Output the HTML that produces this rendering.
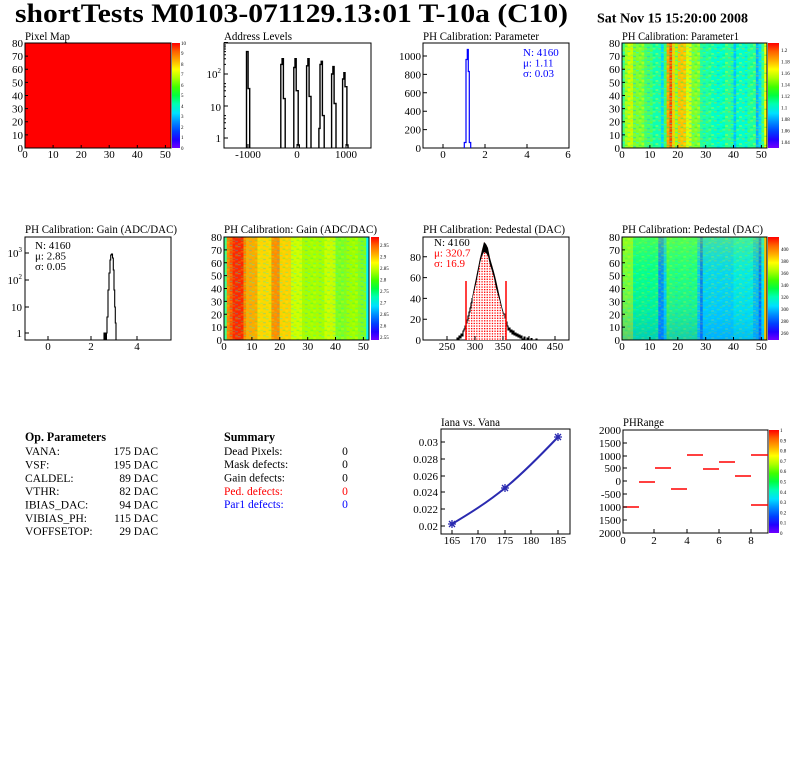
<!DOCTYPE html>
<html><head><meta charset="utf-8"><style>
html,body{margin:0;padding:0;background:#fff;}
svg{display:block;}
text{font-family:"Liberation Serif",serif;fill:#000;}
.t{font-size:11px;}
.p{font-size:5px;}
.h{font-size:11.5px;}
</style></head><body>
<svg width="796" height="772" viewBox="0 0 796 772" xmlns="http://www.w3.org/2000/svg">
<defs>
<linearGradient id="pal" x1="0" y1="1" x2="0" y2="0">
<stop offset="0" stop-color="#7000ff"/><stop offset="0.08" stop-color="#2000ff"/><stop offset="0.16" stop-color="#0040ff"/>
<stop offset="0.25" stop-color="#0090ff"/><stop offset="0.33" stop-color="#00e0ff"/><stop offset="0.42" stop-color="#00ffb0"/>
<stop offset="0.5" stop-color="#00ff40"/><stop offset="0.58" stop-color="#40ff00"/><stop offset="0.67" stop-color="#b0ff00"/>
<stop offset="0.75" stop-color="#ffff00"/><stop offset="0.83" stop-color="#ffb000"/><stop offset="0.92" stop-color="#ff6000"/>
<stop offset="1" stop-color="#ff0000"/>
</linearGradient>
<pattern id="tex" x="0" y="0" width="13.94" height="9.01" patternUnits="userSpaceOnUse">
<rect x="0" y="0" width="2.79" height="1.29" fill="#00ffff" opacity="0.5"/>
<rect x="5.58" y="1.29" width="2.79" height="1.29" fill="#ffff00" opacity="0.5"/>
<rect x="2.79" y="2.57" width="2.79" height="1.29" fill="#00ff60" opacity="0.5"/>
<rect x="11.15" y="3.86" width="2.79" height="1.29" fill="#00c0ff" opacity="0.5"/>
<rect x="8.36" y="5.15" width="2.79" height="1.29" fill="#ffc000" opacity="0.45"/>
<rect x="0" y="6.44" width="2.79" height="1.29" fill="#80ff00" opacity="0.5"/>
<rect x="5.58" y="7.72" width="2.79" height="1.29" fill="#00ffd0" opacity="0.5"/>
<rect x="11.15" y="0" width="2.79" height="1.29" fill="#a0ff00" opacity="0.45"/>
<rect x="8.36" y="2.57" width="2.79" height="1.29" fill="#40ff80" opacity="0.45"/>
<rect x="2.79" y="5.15" width="2.79" height="1.29" fill="#e0ff00" opacity="0.45"/>
<rect x="11.15" y="7.72" width="2.79" height="1.29" fill="#00e0ff" opacity="0.45"/>
<rect x="5.58" y="3.86" width="2.79" height="1.29" fill="#60ff40" opacity="0.45"/>
</pattern>
<pattern id="dots" x="0" y="0" width="2.6" height="2.6" patternUnits="userSpaceOnUse">
<rect x="0" y="0" width="2.6" height="2.6" fill="#fff"/>
<rect x="0.4" y="0.4" width="1.3" height="1.3" fill="#ff0000"/>
</pattern>
<linearGradient id="pedv" x1="0" y1="0" x2="0" y2="1">
<stop offset="0" stop-color="#c0ff00" stop-opacity="0.35"/>
<stop offset="0.35" stop-color="#40ff60" stop-opacity="0.1"/>
<stop offset="0.7" stop-color="#00a0ff" stop-opacity="0.15"/>
<stop offset="1" stop-color="#0060ff" stop-opacity="0.3"/>
</linearGradient>
</defs>

<!-- Title -->
<text x="15" y="22" font-size="26" font-weight="bold" textLength="553" lengthAdjust="spacingAndGlyphs">shortTests M0103-071129.13:01 T-10a (C10)</text>
<text x="597" y="22.5" font-size="13.5" font-weight="bold" textLength="151" lengthAdjust="spacingAndGlyphs">Sat Nov 15 15:20:00 2008</text>

<!-- ========== Pixel Map ========== -->
<text class="h" x="25" y="40" textLength="45" lengthAdjust="spacingAndGlyphs">Pixel Map</text>
<rect x="25" y="43" width="146" height="105" fill="#ff0000"/>
<rect x="172" y="43" width="8" height="105" fill="url(#pal)"/>
<rect x="25" y="43" width="146" height="105" fill="none" stroke="#000" stroke-width="1"/>
<path d="M53.1,148v-3M81.2,148v-3M109.2,148v-3M137.3,148v-3M165.4,148v-3M25,134.9h3M25,121.75h3M25,108.6h3M25,95.5h3M25,82.4h3M25,69.25h3M25,56.1h3" stroke="#000" fill="none"/>
<g class="t" text-anchor="end">
<text x="23" y="47">80</text><text x="23" y="60">70</text><text x="23" y="73">60</text><text x="23" y="86.4">50</text><text x="23" y="99.5">40</text><text x="23" y="112.6">30</text><text x="23" y="125.7">20</text><text x="23" y="138.9">10</text><text x="23" y="152">0</text>
</g>
<g class="t" text-anchor="middle">
<text x="25" y="158">0</text><text x="53.1" y="158">10</text><text x="81.2" y="158">20</text><text x="109.2" y="158">30</text><text x="137.3" y="158">40</text><text x="165.4" y="158">50</text>
</g>
<g class="p">
<text x="181" y="45">10</text><text x="181" y="55">9</text><text x="181" y="66">8</text><text x="181" y="76">7</text><text x="181" y="87">6</text><text x="181" y="97">5</text><text x="181" y="108">4</text><text x="181" y="118">3</text><text x="181" y="129">2</text><text x="181" y="139">1</text><text x="181" y="150">0</text>
</g>

<!-- ========== Address Levels ========== -->
<text class="h" x="224" y="40" textLength="68" lengthAdjust="spacingAndGlyphs">Address Levels</text>
<rect x="224" y="43" width="147" height="105" fill="none" stroke="#000"/>
<g fill="none" stroke="#000" stroke-width="1.4">
<path d="M246.5,148V51.6H248.1V88.6H249.7V148"/>
<path d="M280.8,148V64.4H282.1V58.7H283.4V98.6H285.2V148"/>
<path d="M293.8,148V67.5H295V58.7H296.2V90.7H298.2V145H299.3V148"/>
<path d="M306.6,148V65.8H307.9V58.7H309.1V96.4H311V148"/>
<path d="M318.9,148V128.4H320V64.4H321.2V61.3H322.4V115.6H324.2V148"/>
<path d="M331.6,148V74H332.9V66.6H334.1V103.5H336V148"/>
<path d="M342.6,148V79H343.9V72.7H345V86.7H346.9V145H348V148"/>
</g>
<path d="M248,148v-4M297,148v-4M346,148v-4M224,138h4M224,106h4M224,74h4M224,42.5h4M224,128.4h2M224,122.7h2M224,118.7h2M224,115.6h2M224,96.4h2M224,90.7h2M224,86.7h2M224,83.6h2M224,64.4h2M224,58.7h2M224,54.7h2M224,51.6h2M224,49h2M224,46.9h2M224,45h2" stroke="#000" fill="none"/>
<g class="t" text-anchor="end">
<text x="221" y="142">1</text><text x="221" y="111">10</text><text x="221" y="78">10<tspan font-size="7" dy="-5">2</tspan></text>
</g>
<g class="t" text-anchor="middle">
<text x="248" y="158">-1000</text><text x="297" y="158">0</text><text x="346" y="158">1000</text>
</g>

<!-- ========== PH Calibration: Parameter ========== -->
<text class="h" x="423" y="40" textLength="116" lengthAdjust="spacingAndGlyphs">PH Calibration: Parameter</text>
<rect x="423" y="43" width="146" height="105" fill="none" stroke="#000"/>
<path d="M464.3,148V142.5H466V59.5H467.3V49.5H468.3V71.5H469.3V142.5H470.7V148" fill="none" stroke="#0000ff" stroke-width="1.2"/>
<path d="M443,148v-4M485,148v-4M527,148v-4M423,56h4M423,74.4h4M423,92.8h4M423,111.2h4M423,129.6h4" stroke="#000" fill="none"/>
<g class="t" text-anchor="end">
<text x="421" y="60">1000</text><text x="421" y="78.4">800</text><text x="421" y="96.8">600</text><text x="421" y="115.2">400</text><text x="421" y="133.6">200</text><text x="421" y="152">0</text>
</g>
<g class="t" text-anchor="middle">
<text x="443" y="158">0</text><text x="485" y="158">2</text><text x="527" y="158">4</text><text x="568" y="158">6</text>
</g>
<g class="t">
<text x="523" y="56" style="fill:#0000ff">N: 4160</text><text x="523" y="66.5" style="fill:#0000ff">μ: 1.11</text><text x="523" y="77" style="fill:#0000ff">σ: 0.03</text>
</g>

<!-- ========== PH Calibration: Parameter1 ========== -->
<text class="h" x="622" y="40" textLength="117" lengthAdjust="spacingAndGlyphs">PH Calibration: Parameter1</text>
<g transform="translate(622,43)">
<rect x="0" y="0" width="145" height="105" fill="#40ff80"/>
<rect x="2.79" y="0" width="2.79" height="105" fill="#a0ff20"/>
<rect x="5.58" y="0" width="5.58" height="105" fill="#c8ff00"/>
<rect x="11.15" y="0" width="11.15" height="105" fill="#80ff30"/>
<rect x="22.31" y="0" width="8.37" height="105" fill="#40ff70"/>
<rect x="30.67" y="0" width="8.37" height="105" fill="#10ffb0"/>
<rect x="39.04" y="0" width="2.79" height="105" fill="#00d8ff"/>
<rect x="41.83" y="0" width="2.79" height="105" fill="#40ff60"/>
<rect x="44.62" y="0" width="2.79" height="105" fill="#ffa000"/>
<rect x="47.40" y="0" width="2.79" height="105" fill="#ff4000"/>
<rect x="50.19" y="0" width="2.79" height="105" fill="#ffd000"/>
<rect x="52.98" y="0" width="2.79" height="105" fill="#b0ff00"/>
<rect x="55.77" y="0" width="8.37" height="105" fill="#ffc000"/>
<rect x="64.13" y="0" width="5.58" height="105" fill="#e0ff00"/>
<rect x="69.71" y="0" width="8.37" height="105" fill="#80ff30"/>
<rect x="78.08" y="0" width="11.15" height="105" fill="#20ffa0"/>
<rect x="89.23" y="0" width="13.94" height="105" fill="#00ffc8"/>
<rect x="103.17" y="0" width="8.37" height="105" fill="#20ffa0"/>
<rect x="111.54" y="0" width="2.79" height="105" fill="#00c0ff"/>
<rect x="114.33" y="0" width="11.15" height="105" fill="#00ffd0"/>
<rect x="125.48" y="0" width="8.37" height="105" fill="#20ffa0"/>
<rect x="133.85" y="0" width="2.79" height="105" fill="#00b0ff"/>
<rect x="136.63" y="0" width="2.79" height="105" fill="#00e0ff"/>
<rect x="139.42" y="0" width="2.79" height="105" fill="#40ff80"/>
<rect x="142.21" y="0" width="2.79" height="105" fill="#ffff00"/>
<rect x="0" y="0" width="145" height="105" fill="url(#tex)"/>
</g>
<rect x="768" y="43" width="11" height="105" fill="url(#pal)"/>
<rect x="622" y="43" width="145" height="105" fill="none" stroke="#000"/>
<path d="M649.9,148v-3M677.8,148v-3M705.7,148v-3M733.5,148v-3M761.4,148v-3M622,134.9h3M622,121.75h3M622,108.6h3M622,95.5h3M622,82.4h3M622,69.25h3M622,56.1h3" stroke="#000" fill="none"/>
<g class="t" text-anchor="end">
<text x="620" y="47">80</text><text x="620" y="60">70</text><text x="620" y="73">60</text><text x="620" y="86.4">50</text><text x="620" y="99.5">40</text><text x="620" y="112.6">30</text><text x="620" y="125.7">20</text><text x="620" y="138.9">10</text><text x="620" y="152">0</text>
</g>
<g class="t" text-anchor="middle">
<text x="622" y="158">0</text><text x="649.9" y="158">10</text><text x="677.8" y="158">20</text><text x="705.7" y="158">30</text><text x="733.5" y="158">40</text><text x="761.4" y="158">50</text>
</g>
<g class="p">
<text x="781" y="52">1.2</text><text x="781" y="63.5">1.18</text><text x="781" y="75">1.16</text><text x="781" y="86.5">1.14</text><text x="781" y="98">1.12</text><text x="781" y="109.5">1.1</text><text x="781" y="121">1.08</text><text x="781" y="132.5">1.06</text><text x="781" y="144">1.04</text>
</g>

<!-- ========== Gain histogram ========== -->
<text class="h" x="25" y="233" textLength="152" lengthAdjust="spacingAndGlyphs">PH Calibration: Gain (ADC/DAC)</text>
<rect x="25" y="237" width="146" height="103" fill="none" stroke="#000"/>
<rect x="104" y="333" width="3" height="7" fill="#000"/>
<path d="M104,340V333H107V317H108V290H109V273H110V260H110.7V255H111.5V254H112.5V258H113.3V270H114V290H114.7V307H115.3V323H116V340" fill="none" stroke="#000" stroke-width="1.1"/>
<path d="M48,340v-4M91,340v-4M137,340v-4M25,333h4M25,307h4M25,280h4M25,253h4" stroke="#000" fill="none"/>
<g class="t" text-anchor="end">
<text x="22" y="337">1</text><text x="22" y="311">10</text><text x="22" y="284">10<tspan font-size="7" dy="-5">2</tspan></text><text x="22" y="257">10<tspan font-size="7" dy="-5">3</tspan></text>
</g>
<g class="t" text-anchor="middle">
<text x="48" y="350">0</text><text x="91" y="350">2</text><text x="137" y="350">4</text>
</g>
<g class="t">
<text x="35" y="249">N: 4160</text><text x="35" y="259.5">μ: 2.85</text><text x="35" y="270">σ: 0.05</text>
</g>

<!-- ========== Gain heatmap ========== -->
<text class="h" x="224" y="233" textLength="153" lengthAdjust="spacingAndGlyphs">PH Calibration: Gain (ADC/DAC)</text>
<g transform="translate(224,237)">
<rect x="0" y="0" width="145" height="103" fill="#a8ff00"/>
<rect x="0" y="0" width="2.79" height="103" fill="#40ff90"/>
<rect x="2.79" y="0" width="2.79" height="103" fill="#ff8000"/>
<rect x="5.58" y="0" width="2.79" height="103" fill="#ff5000"/>
<rect x="8.37" y="0" width="11.15" height="103" fill="#ff2800"/>
<rect x="19.52" y="0" width="2.79" height="103" fill="#ff8000"/>
<rect x="22.31" y="0" width="11.15" height="103" fill="#ffa800"/>
<rect x="33.46" y="0" width="13.94" height="103" fill="#ffd800"/>
<rect x="47.40" y="0" width="8.37" height="103" fill="#ff8c00"/>
<rect x="55.77" y="0" width="11.15" height="103" fill="#ffd000"/>
<rect x="66.92" y="0" width="11.15" height="103" fill="#d0ff00"/>
<rect x="78.08" y="0" width="22.31" height="103" fill="#a8ff00"/>
<rect x="100.38" y="0" width="11.15" height="103" fill="#c8ff00"/>
<rect x="111.54" y="0" width="11.15" height="103" fill="#80ff20"/>
<rect x="122.69" y="0" width="11.15" height="103" fill="#a0ff00"/>
<rect x="133.85" y="0" width="8.37" height="103" fill="#80ff20"/>
<rect x="142.21" y="0" width="2.79" height="103" fill="#00f0ff"/>
<rect x="0" y="0" width="142" height="103" fill="url(#tex)" opacity="0.6"/>
</g>
<rect x="371" y="237" width="8" height="103" fill="url(#pal)"/>
<rect x="224" y="237" width="145" height="103" fill="none" stroke="#000"/>
<path d="M251.9,340v-3M279.8,340v-3M307.7,340v-3M335.5,340v-3M363.4,340v-3M224,327.1h3M224,314.25h3M224,301.4h3M224,288.5h3M224,275.6h3M224,262.75h3M224,249.9h3" stroke="#000" fill="none"/>
<g class="t" text-anchor="end">
<text x="222" y="241">80</text><text x="222" y="253.9">70</text><text x="222" y="266.75">60</text><text x="222" y="279.6">50</text><text x="222" y="292.5">40</text><text x="222" y="305.4">30</text><text x="222" y="318.25">20</text><text x="222" y="331.1">10</text><text x="222" y="344">0</text>
</g>
<g class="t" text-anchor="middle">
<text x="224" y="350">0</text><text x="251.9" y="350">10</text><text x="279.8" y="350">20</text><text x="307.7" y="350">30</text><text x="335.5" y="350">40</text><text x="363.4" y="350">50</text>
</g>
<g class="p">
<text x="380" y="247">2.95</text><text x="380" y="258.5">2.9</text><text x="380" y="270">2.85</text><text x="380" y="281.5">2.8</text><text x="380" y="293">2.75</text><text x="380" y="304.5">2.7</text><text x="380" y="316">2.65</text><text x="380" y="327.5">2.6</text><text x="380" y="339">2.55</text>
</g>

<!-- ========== Pedestal histogram ========== -->
<text class="h" x="423" y="233" textLength="142" lengthAdjust="spacingAndGlyphs">PH Calibration: Pedestal (DAC)</text>
<rect x="423" y="237" width="146" height="103" fill="none" stroke="#000"/>
<polygon points="466,340 466,323 468,316 470,308 472,298 474,288 476,278 478,268 480,258 482,250 484,242 486,244 488,248 490,258 492,265 494,272 496,280 498,289 500,298 502,307 504,314 506,322 506,340" fill="url(#dots)"/>
<polygon points="470,308 472,298 474,288 476,278 478,268 480,258 482,250 484,242 486,244 488,248 490,258 492,265 494,272 496,280 498,289 500,298 502,307 504,314 504,316 502,310 500,302 498,295 496,288 494,278 492,271 490,265 488,256 486,253 484,252 482,256 480,263 478,274 476,284 474,292 472,300 470,309" fill="#000"/>
<path d="M455,340H457V338H458V339.5H459V336H460V338H461V334H462V336H463V331H464V329H465V326H466V323H467V320H468V316H469V312H470V308H471V303H472V298" fill="none" stroke="#000" stroke-width="1.1"/>
<path d="M504,314H505V318H506V322H507V326H508V330H509V328H510V332H511V330H512V334H513V331H514V335H515V333H516V336H517V334H518V337H519V335H520V338H521V336H522V339H524V337H525V340H527V338H528V340H531V338.5H532V340H536V339H537V340" fill="none" stroke="#000" stroke-width="1.1"/>
<path d="M466,340V281M506,340V281" stroke="#ff0000" stroke-width="1.5"/>
<path d="M447,340v-4M475,340v-4M503,340v-4M529,340v-4M555,340v-4M423,319.2h4M423,298.4h4M423,277.6h4M423,256.8h4" stroke="#000" fill="none"/>
<g class="t" text-anchor="end">
<text x="421" y="261">80</text><text x="421" y="281.6">60</text><text x="421" y="302.4">40</text><text x="421" y="323.2">20</text><text x="421" y="344">0</text>
</g>
<g class="t" text-anchor="middle">
<text x="447" y="350">250</text><text x="475" y="350">300</text><text x="503" y="350">350</text><text x="529" y="350">400</text><text x="555" y="350">450</text>
</g>
<g class="t">
<text x="434" y="246">N: 4160</text><text x="434" y="256.5" style="fill:#ff0000">μ: 320.7</text><text x="434" y="267" style="fill:#ff0000">σ: 16.9</text>
</g>

<!-- ========== Pedestal heatmap ========== -->
<text class="h" x="622" y="233" textLength="141" lengthAdjust="spacingAndGlyphs">PH Calibration: Pedestal (DAC)</text>
<g transform="translate(622,237)">
<rect x="0" y="0" width="145" height="103" fill="#20ff80"/>
<rect x="0" y="0" width="11.15" height="103" fill="#80ff30"/>
<rect x="11.15" y="0" width="25.1" height="103" fill="#00ff90"/>
<rect x="36.25" y="0" width="5.58" height="103" fill="#0080ff"/>
<rect x="41.83" y="0" width="2.79" height="103" fill="#00c8ff"/>
<rect x="44.62" y="0" width="2.79" height="103" fill="#40ff50"/>
<rect x="47.40" y="0" width="27.88" height="103" fill="#20ff80"/>
<rect x="75.29" y="0" width="2.79" height="103" fill="#00c0ff"/>
<rect x="78.08" y="0" width="2.79" height="103" fill="#0070ff"/>
<rect x="80.87" y="0" width="30.67" height="103" fill="#00d0ff"/>
<rect x="111.54" y="0" width="19.52" height="103" fill="#00e8f0"/>
<rect x="131.06" y="0" width="5.58" height="103" fill="#00b8ff"/>
<rect x="136.63" y="0" width="2.79" height="103" fill="#0060ff"/>
<rect x="139.42" y="0" width="2.79" height="103" fill="#00e0ff"/>
<rect x="142.21" y="0" width="2.79" height="103" fill="#ffc000"/>
<rect x="0" y="0" width="142" height="103" fill="url(#tex)" opacity="0.7"/>
<rect x="0" y="0" width="142" height="103" fill="url(#pedv)"/>
</g>
<rect x="768" y="237" width="11" height="103" fill="url(#pal)"/>
<rect x="622" y="237" width="145" height="103" fill="none" stroke="#000"/>
<path d="M649.9,340v-3M677.8,340v-3M705.7,340v-3M733.5,340v-3M761.4,340v-3M622,327.1h3M622,314.25h3M622,301.4h3M622,288.5h3M622,275.6h3M622,262.75h3M622,249.9h3" stroke="#000" fill="none"/>
<g class="t" text-anchor="end">
<text x="620" y="241">80</text><text x="620" y="253.9">70</text><text x="620" y="266.75">60</text><text x="620" y="279.6">50</text><text x="620" y="292.5">40</text><text x="620" y="305.4">30</text><text x="620" y="318.25">20</text><text x="620" y="331.1">10</text><text x="620" y="344">0</text>
</g>
<g class="t" text-anchor="middle">
<text x="622" y="350">0</text><text x="649.9" y="350">10</text><text x="677.8" y="350">20</text><text x="705.7" y="350">30</text><text x="733.5" y="350">40</text><text x="761.4" y="350">50</text>
</g>
<g class="p">
<text x="781" y="251">400</text><text x="781" y="263">380</text><text x="781" y="275">360</text><text x="781" y="287">340</text><text x="781" y="299">320</text><text x="781" y="311">300</text><text x="781" y="323">280</text><text x="781" y="335">260</text>
</g>

<!-- ========== Op. Parameters ========== -->
<text x="25" y="441" font-size="13" font-weight="bold" textLength="81" lengthAdjust="spacingAndGlyphs">Op. Parameters</text>
<g font-size="11.5">
<text x="25" y="455">VANA:</text><text x="158" y="455" text-anchor="end">175 DAC</text>
<text x="25" y="468.5">VSF:</text><text x="158" y="468.5" text-anchor="end">195 DAC</text>
<text x="25" y="482">CALDEL:</text><text x="158" y="482" text-anchor="end">89 DAC</text>
<text x="25" y="495">VTHR:</text><text x="158" y="495" text-anchor="end">82 DAC</text>
<text x="25" y="508.5">IBIAS_DAC:</text><text x="158" y="508.5" text-anchor="end">94 DAC</text>
<text x="25" y="522">VIBIAS_PH:</text><text x="158" y="522" text-anchor="end">115 DAC</text>
<text x="25" y="535">VOFFSETOP:</text><text x="158" y="535" text-anchor="end">29 DAC</text>
</g>

<!-- ========== Summary ========== -->
<text x="224" y="441" font-size="13" font-weight="bold" textLength="51" lengthAdjust="spacingAndGlyphs">Summary</text>
<g font-size="11.5">
<text x="224" y="455">Dead Pixels:</text><text x="345" y="455" text-anchor="middle">0</text>
<text x="224" y="468">Mask defects:</text><text x="345" y="468" text-anchor="middle">0</text>
<text x="224" y="481.5">Gain defects:</text><text x="345" y="481.5" text-anchor="middle">0</text>
<text x="224" y="495" style="fill:#ff0000">Ped. defects:</text><text x="345" y="495" text-anchor="middle" style="fill:#ff0000">0</text>
<text x="224" y="508" style="fill:#0000ff">Par1 defects:</text><text x="345" y="508" text-anchor="middle" style="fill:#0000ff">0</text>
</g>

<!-- ========== Iana vs. Vana ========== -->
<text class="h" x="441" y="426" textLength="59" lengthAdjust="spacingAndGlyphs">Iana vs. Vana</text>
<rect x="441" y="429" width="129" height="105" fill="none" stroke="#000"/>
<path d="M452,524 C469.7,513.4 487.3,502.5 505,488 C522.7,473.5 540.3,455.6 558,437" fill="none" stroke="#2a2ab0" stroke-width="2"/>
<g stroke="#2a2ab0" stroke-width="1.3" fill="none">
<path d="M448,524h8M452,520v8M449,521l6,6M455,521l-6,6"/>
<path d="M501,488h8M505,484v8M502,485l6,6M508,485l-6,6"/>
<path d="M554,437h8M558,433v8M555,434l6,6M561,434l-6,6"/>
</g>
<path d="M452,534v-4M478,534v-4M505,534v-4M531,534v-4M558,534v-4M441,442h4M441,459h4M441,476h4M441,492h4M441,509h4M441,526h4" stroke="#000" fill="none"/>
<g class="t" text-anchor="end">
<text x="438" y="446">0.03</text><text x="438" y="463">0.028</text><text x="438" y="480">0.026</text><text x="438" y="496">0.024</text><text x="438" y="513">0.022</text><text x="438" y="530">0.02</text>
</g>
<g class="t" text-anchor="middle">
<text x="452" y="544">165</text><text x="478" y="544">170</text><text x="505" y="544">175</text><text x="531" y="544">180</text><text x="558" y="544">185</text>
</g>

<!-- ========== PHRange ========== -->
<text class="h" x="623" y="426" textLength="41" lengthAdjust="spacingAndGlyphs">PHRange</text>
<rect x="769" y="430" width="10" height="103" fill="url(#pal)"/>
<rect x="623" y="430" width="145" height="103" fill="none" stroke="#000"/>
<g stroke="#ff0000" stroke-width="1.5">
<path d="M623,507h16M639,482h16M655,468h16M671,489h16M687,455h16M703,469h16M719,462h16M735,476h16M751,455h17M751,505h17"/>
</g>
<path d="M654,533v-4M687,533v-4M719,533v-4M751,533v-4M623,443h4M623,456h4M623,468h4M623,481h4M623,494h4M623,507h4M623,520h4" stroke="#000" fill="none"/>
<g class="t" text-anchor="end">
<text x="621" y="434">2000</text><text x="621" y="447">1500</text><text x="621" y="460">1000</text><text x="621" y="472">500</text><text x="621" y="485">0</text><text x="621" y="498">-500</text><text x="621" y="511">1000</text><text x="621" y="524">1500</text><text x="621" y="537">2000</text>
</g>
<g class="t" text-anchor="middle">
<text x="623" y="544">0</text><text x="654" y="544">2</text><text x="687" y="544">4</text><text x="719" y="544">6</text><text x="751" y="544">8</text>
</g>
<g class="p">
<text x="780" y="432">1</text><text x="780" y="442.3">0.9</text><text x="780" y="452.6">0.8</text><text x="780" y="462.9">0.7</text><text x="780" y="473.2">0.6</text><text x="780" y="483.5">0.5</text><text x="780" y="493.8">0.4</text><text x="780" y="504.1">0.3</text><text x="780" y="514.4">0.2</text><text x="780" y="524.7">0.1</text><text x="780" y="535">0</text>
</g>
</svg>
</body></html>
